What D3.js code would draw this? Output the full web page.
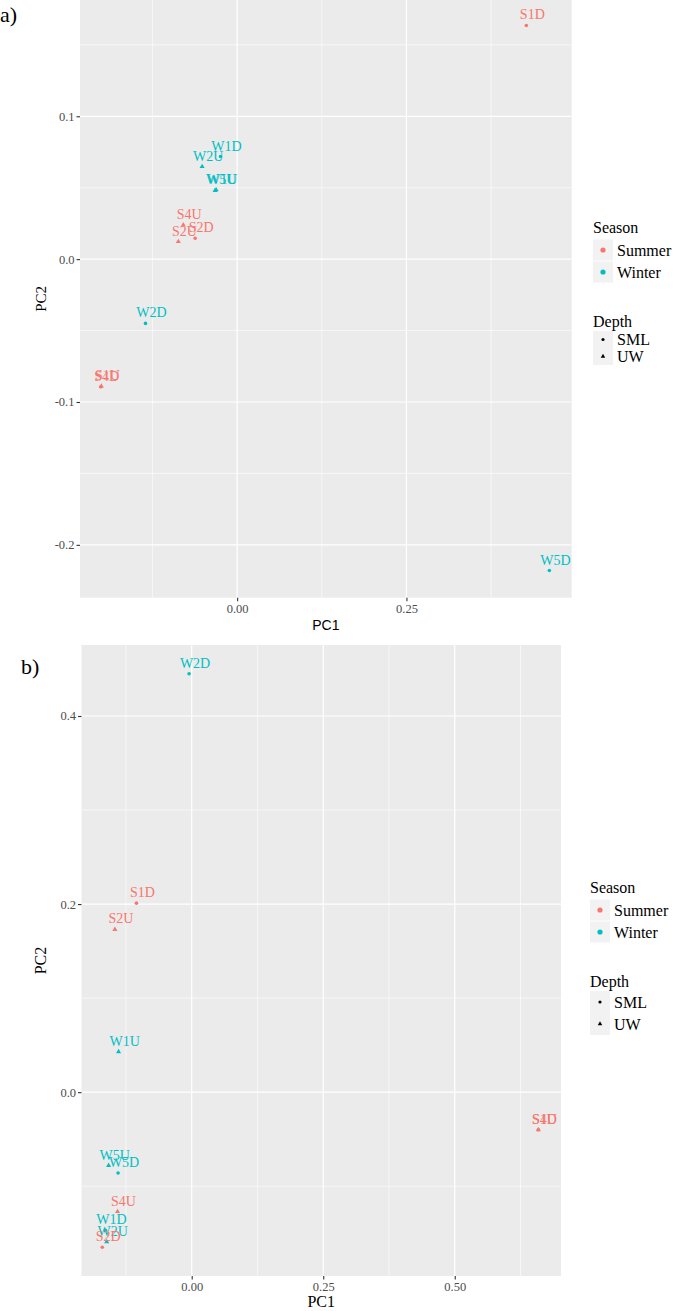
<!DOCTYPE html>
<html>
<head>
<meta charset="utf-8">
<script src="https://cdn.jsdelivr.net/npm/d3@7"></script>
<style>
  html, body { margin: 0; padding: 0; background: #ffffff; }
  svg { display: block; }
</style>
</head>
<body>
<svg id="chart" width="674" height="1311"></svg>
<script>
// ---------------- DATA ----------------
// Panel a)
const samplesA = ["S1D","W1D","W2U","W1U","W5U","S4U","S2U","S2D","W2D","S4D","S1U","W5D"];
const seasonA  = ["Summer","Winter","Winter","Winter","Winter","Summer","Summer","Summer","Winter","Summer","Summer","Winter"];
const depthA   = ["SML","SML","UW","UW","UW","UW","UW","SML","SML","SML","UW","SML"];
const pc1A     = [0.427, -0.0245, -0.0517, -0.031, -0.0325, -0.0795, -0.0868, -0.062, -0.1353, -0.2013, -0.2005, 0.461];
const pc2A     = [0.1636, 0.0718, 0.0648, 0.0485, 0.0481, 0.0239, 0.0123, 0.0146, -0.045, -0.0894, -0.0890, -0.218];

// Panel b)
const samplesB = ["W2D","S1D","S2U","W1U","W5U","W5D","S4U","W1D","W2U","S2D","S4D","S1U"];
const seasonB  = ["Winter","Summer","Summer","Winter","Winter","Winter","Summer","Winter","Winter","Summer","Summer","Summer"];
const depthB   = ["SML","SML","UW","UW","UW","SML","UW","SML","UW","SML","SML","UW"];
const pc1B     = [-0.005, -0.105, -0.146, -0.139, -0.158, -0.140, -0.141, -0.164, -0.1616, -0.170, 0.659, 0.659];
const pc2B     = [0.445, 0.201, 0.173, 0.043, -0.078, -0.086, -0.127, -0.147, -0.159, -0.165, -0.040, -0.040];

// Axis ticks
const xMajorA = [0, 0.25];
const xMinorA = [-0.125, 0.125, 0.375];
const yMajorA = [-0.2, -0.1, 0.0, 0.1];
const yMinorA = [-0.15, -0.05, 0.05, 0.15];
const xMajorB = [0, 0.25, 0.5];
const xMinorB = [-0.125, 0.125, 0.375, 0.625];
const yMajorB = [0.0, 0.2, 0.4];
const yMinorB = [-0.1, 0.1, 0.3];

const seasons = ["Summer","Winter"];
const depths  = ["SML","UW"];
const seasonColors = ["#F8766D","#00BFC4"];

// ---------------- DRAW ----------------
const svg = d3.select("#chart");
const color = d3.scaleOrdinal().domain(seasons).range(seasonColors);
const serif = "'Liberation Serif','Times New Roman',serif";
const sans  = "'Liberation Sans',Arial,sans-serif";
const fix = s => s.replace("\u2212","-");

function drawPanel(cfg) {
  const g = svg.append("g");
  const x = d3.scaleLinear().domain(cfg.xDomain).range([cfg.left, cfg.right]);
  const y = d3.scaleLinear().domain(cfg.yDomain).range([cfg.bottom, cfg.top]);
  const clipId = "clip" + cfg.id;
  svg.append("clipPath").attr("id", clipId).append("rect")
    .attr("x", cfg.left).attr("y", cfg.top)
    .attr("width", cfg.right - cfg.left).attr("height", cfg.bottom - cfg.top);

  g.append("rect").attr("x", cfg.left).attr("y", cfg.top)
    .attr("width", cfg.right - cfg.left).attr("height", cfg.bottom - cfg.top)
    .attr("fill", "#EBEBEB");

  const grid = g.append("g").attr("clip-path", `url(#${clipId})`);
  grid.selectAll(".vmin").data(cfg.xMinor).join("line")
    .attr("x1", d => x(d)).attr("x2", d => x(d)).attr("y1", cfg.top).attr("y2", cfg.bottom)
    .attr("stroke", "#fff").attr("stroke-width", 0.6);
  grid.selectAll(".hmin").data(cfg.yMinor).join("line")
    .attr("y1", d => y(d)).attr("y2", d => y(d)).attr("x1", cfg.left).attr("x2", cfg.right)
    .attr("stroke", "#fff").attr("stroke-width", 0.6);
  grid.selectAll(".vmaj").data(cfg.xMajor).join("line")
    .attr("x1", d => x(d)).attr("x2", d => x(d)).attr("y1", cfg.top).attr("y2", cfg.bottom)
    .attr("stroke", "#fff").attr("stroke-width", 1.2);
  grid.selectAll(".hmaj").data(cfg.yMajor).join("line")
    .attr("y1", d => y(d)).attr("y2", d => y(d)).attr("x1", cfg.left).attr("x2", cfg.right)
    .attr("stroke", "#fff").attr("stroke-width", 1.2);

  const data = cfg.samples.map((s, i) => ({
    name: s, season: cfg.season[i], depth: cfg.depth[i], pc1: cfg.pc1[i], pc2: cfg.pc2[i]
  }));

  const tri = d3.symbol().type(d3.symbolTriangle).size(11);
  const pts = g.append("g").attr("clip-path", `url(#${clipId})`);
  pts.selectAll("circle").data(data.filter(d => d.depth === "SML")).join("circle")
    .attr("cx", d => x(d.pc1)).attr("cy", d => y(d.pc2)).attr("r", 1.8)
    .attr("fill", d => color(d.season));
  pts.selectAll("path").data(data.filter(d => d.depth === "UW")).join("path")
    .attr("d", tri).attr("transform", d => `translate(${x(d.pc1)},${y(d.pc2)})`)
    .attr("fill", d => color(d.season));

  const lab = g.append("g");
  lab.selectAll("text").data(data).join("text")
    .attr("x", d => x(d.pc1) + 6).attr("y", d => y(d.pc2) - 6)
    .attr("text-anchor", "middle")
    .attr("font-family", serif).attr("font-size", 14)
    .attr("fill", d => color(d.season))
    .text(d => d.name);

  // axes
  const xa = g.append("g").attr("transform", `translate(0,${cfg.bottom})`)
    .call(d3.axisBottom(x).tickValues(cfg.xMajor).tickSize(3.5).tickPadding(3)
      .tickFormat(d => fix(d3.format(".2f")(d))));
  const ya = g.append("g").attr("transform", `translate(${cfg.left},0)`)
    .call(d3.axisLeft(y).tickValues(cfg.yMajor).tickSize(3.5).tickPadding(2)
      .tickFormat(d => fix(d3.format(".1f")(d))));
  [xa, ya].forEach(a => {
    a.select(".domain").remove();
    a.selectAll(".tick line").attr("stroke", "#333333").attr("stroke-width", 1.1);
    a.selectAll(".tick text").attr("fill", "#4D4D4D").attr("font-family", serif).attr("font-size", 12.5);
  });

  // axis titles
  g.append("text").attr("x", (cfg.left + cfg.right) / 2).attr("y", cfg.xTitleY)
    .attr("text-anchor", "middle").attr("font-family", cfg.xTitleFont).attr("font-size", cfg.xTitleSize)
    .attr("fill", "#000").text("PC1");
  g.append("text").attr("transform", `translate(${cfg.yTitleX},${(cfg.top + cfg.bottom) / 2}) rotate(-90)`)
    .attr("text-anchor", "middle").attr("font-family", serif).attr("font-size", cfg.yTitleSize)
    .attr("fill", "#000").text("PC2");

  // panel tag
  g.append("text").attr("x", cfg.tagX).attr("y", cfg.tagY)
    .attr("font-family", serif).attr("font-size", 22).attr("fill", "#000").text(cfg.tag);

  // legend
  const L = g.append("g").attr("transform", `translate(${cfg.legendX},${cfg.legendY})`);
  L.append("text").attr("x", 0).attr("y", 5.5).attr("font-family", serif).attr("font-size", 16).text("Season");
  seasons.forEach((s, i) => {
    const cy = 23 + i * 22;
    L.append("rect").attr("x", 0).attr("y", cy - 10.5).attr("width", 20).attr("height", 21).attr("fill", "#F2F2F2");
    L.append("circle").attr("cx", 10).attr("cy", cy).attr("r", 2.6).attr("fill", color(s));
    L.append("text").attr("x", 24).attr("y", cy + 5.5).attr("font-family", serif).attr("font-size", 16).text(s);
  });
  L.append("text").attr("x", 0).attr("y", 94 + 5.5).attr("font-family", serif).attr("font-size", 16).text("Depth");
  const kh = cfg.depthKey;
  depths.forEach((s, i) => {
    const cy = 94 + 10 + kh / 2 + i * kh;
    L.append("rect").attr("x", 0).attr("y", cy - kh / 2).attr("width", 20).attr("height", kh).attr("fill", "#F2F2F2");
    if (s === "SML") {
      L.append("circle").attr("cx", 10).attr("cy", cy).attr("r", 1.6).attr("fill", "#000");
    } else {
      L.append("path").attr("d", d3.symbol().type(d3.symbolTriangle).size(9)())
        .attr("transform", `translate(10,${cy})`).attr("fill", "#000");
    }
    L.append("text").attr("x", 24).attr("y", cy + 5.5).attr("font-family", serif).attr("font-size", 16).text(s);
  });
}

drawPanel({
  id: "A", tag: "a)", tagX: 0, tagY: 22,
  left: 80, right: 571.7, top: 0, bottom: 597.7,
  xDomain: [-0.232, 0.494], yDomain: [-0.237, 0.1814],
  xMajor: xMajorA, xMinor: xMinorA, yMajor: yMajorA, yMinor: yMinorA,
  samples: samplesA, season: seasonA, depth: depthA, pc1: pc1A, pc2: pc2A,
  xTitleY: 630, xTitleFont: sans, xTitleSize: 14,
  yTitleX: 46, yTitleSize: 15,
  legendX: 593, legendY: 227, depthKey: 17
});

drawPanel({
  id: "B", tag: "b)", tagX: 21, tagY: 674,
  left: 81.5, right: 561, top: 645, bottom: 1276,
  xDomain: [-0.2095, 0.702], yDomain: [-0.1955, 0.4755],
  xMajor: xMajorB, xMinor: xMinorB, yMajor: yMajorB, yMinor: yMinorB,
  samples: samplesB, season: seasonB, depth: depthB, pc1: pc1B, pc2: pc2B,
  xTitleY: 1307, xTitleFont: serif, xTitleSize: 16,
  yTitleX: 46, yTitleSize: 16,
  legendX: 590, legendY: 887, depthKey: 22
});
</script>
</body>
</html>
